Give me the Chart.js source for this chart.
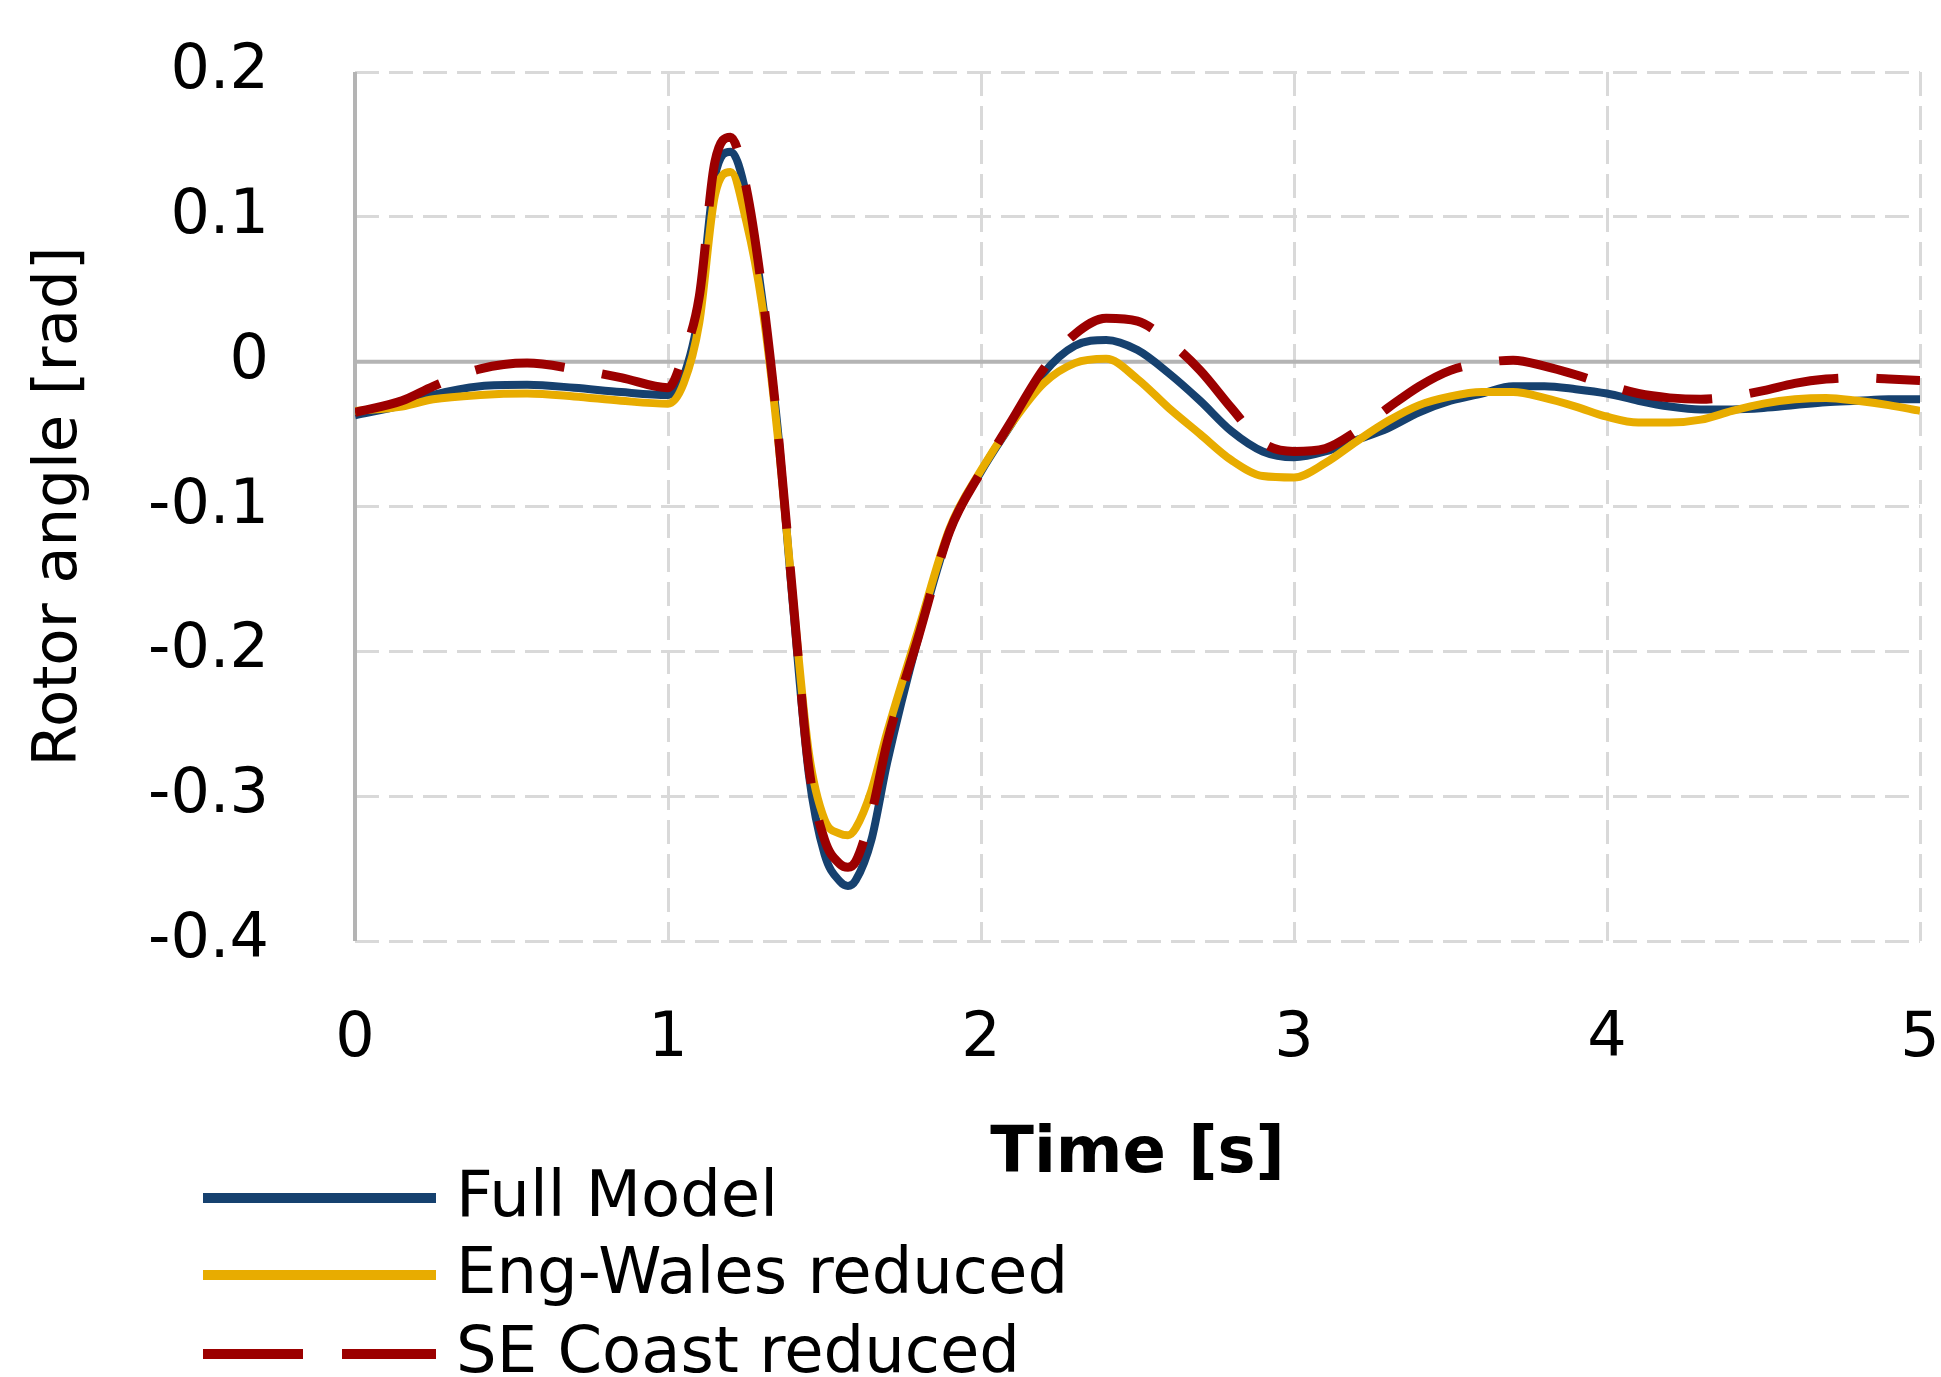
<!DOCTYPE html>
<html>
<head>
<meta charset="utf-8">
<script src="https://cdn.jsdelivr.net/npm/chart.js@4.4.1/dist/chart.umd.min.js"></script>
<style>
  html, body { margin: 0; padding: 0; background: #fff; }
  #wrap { width: 1941px; height: 1377px; }
</style>
</head>
<body>
<div id="wrap"><canvas id="rotorChart" width="1941" height="1377"></canvas></div>
<script>
// time axis [s]
const times = [0, 0.15, 0.25, 0.4, 0.55, 0.7, 0.85, 1.0, 1.05, 1.1, 1.15, 1.2, 1.25, 1.3, 1.35,
  1.4, 1.45, 1.5, 1.55, 1.575, 1.6, 1.65, 1.7, 1.8, 1.9, 2.0, 2.1, 2.2, 2.3, 2.4, 2.5, 2.6, 2.7, 2.8,
  2.9, 3.0, 3.1, 3.2, 3.3, 3.4, 3.5, 3.6, 3.7, 3.8, 3.9, 4.0, 4.1, 4.2, 4.3, 4.4, 4.5, 4.6,
  4.7, 4.8, 4.9, 5.0];

const fullModel = [-0.037, -0.030, -0.023, -0.017, -0.016, -0.018, -0.021, -0.023, -0.010, 0.035,
  0.128, 0.145, 0.115, 0.045, -0.045, -0.170, -0.285, -0.340, -0.359, -0.362, -0.358, -0.330, -0.277,
  -0.190, -0.117, -0.076, -0.042, -0.008, 0.011, 0.015, 0.008, -0.008, -0.027, -0.048, -0.062,
  -0.066, -0.062, -0.054, -0.046, -0.035, -0.027, -0.022, -0.017, -0.017, -0.019, -0.022,
  -0.027, -0.031, -0.033, -0.033, -0.032, -0.030, -0.028, -0.027, -0.026, -0.026];

const engWales = [-0.034, -0.031, -0.026, -0.023, -0.022, -0.024, -0.027, -0.029, -0.015, 0.027,
  0.115, 0.131, 0.097, 0.040, -0.050, -0.165, -0.270, -0.316, -0.326, -0.327, -0.322, -0.296, -0.256,
  -0.185, -0.115, -0.075, -0.042, -0.015, -0.001, 0.002, -0.012, -0.032, -0.050, -0.068, -0.079,
  -0.080, -0.070, -0.055, -0.041, -0.030, -0.024, -0.021, -0.021, -0.025, -0.031, -0.038,
  -0.042, -0.042, -0.040, -0.034, -0.029, -0.026, -0.025, -0.027, -0.030, -0.034];

const seCoast = [-0.035, -0.027, -0.017, -0.005, -0.001, -0.005, -0.011, -0.018, 0.005, 0.045,
  0.138, 0.155, 0.120, 0.050, -0.045, -0.165, -0.280, -0.330, -0.347, -0.349, -0.345, -0.312, -0.263,
  -0.190, -0.117, -0.076, -0.040, -0.005, 0.019, 0.030, 0.028, 0.014, -0.006, -0.032, -0.056,
  -0.062, -0.060, -0.048, -0.032, -0.017, -0.006, -0.001, 0.001, -0.003, -0.009, -0.016,
  -0.022, -0.025, -0.026, -0.024, -0.020, -0.015, -0.012, -0.011, -0.012, -0.013];

const seriesNames = ['Full Model', 'Eng-Wales reduced', 'SE Coast reduced'];
const xTicks = [0, 1, 2, 3, 4, 5];
const yTicks = [-0.4, -0.3, -0.2, -0.1, 0, 0.1, 0.2];

const FONT = 'DejaVu Sans';
const GRID = '#d9d9d9';
const AXIS = '#b4b4b4';

function toPoints(values) {
  return times.map((t, i) => ({ x: t, y: values[i] }));
}

// solid axis line at x=0 and zero line at y=0
const axisLines = {
  id: 'axisLines',
  beforeDatasetsDraw(chart) {
    const { ctx, chartArea, scales } = chart;
    const x0 = scales.x.getPixelForValue(0);
    const y0 = scales.y.getPixelForValue(0);
    ctx.save();
    ctx.strokeStyle = AXIS;
    ctx.lineWidth = 4;
    ctx.beginPath();
    ctx.moveTo(chartArea.left, y0);
    ctx.lineTo(chartArea.right, y0);
    ctx.moveTo(x0, chartArea.top);
    ctx.lineTo(x0, chartArea.bottom);
    ctx.stroke();
    ctx.restore();
  }
};

// vertical legend under the chart
const sideLegend = {
  id: 'sideLegend',
  afterDraw(chart) {
    const ctx = chart.ctx;
    const rows = [1198, 1275, 1354];
    ctx.save();
    ctx.font = '64px "' + FONT + '"';
    ctx.textBaseline = 'middle';
    ctx.fillStyle = '#000';
    chart.data.datasets.forEach((ds, i) => {
      const y = rows[i];
      ctx.strokeStyle = ds.borderColor;
      ctx.lineWidth = 10;
      ctx.setLineDash(ds.borderDash ? [100, 39] : []);
      ctx.beginPath();
      ctx.moveTo(203, y);
      ctx.lineTo(436, y);
      ctx.stroke();
      ctx.setLineDash([]);
      ctx.fillText(ds.label, 456, y + 1);
    });
    ctx.restore();
  }
};

const ctx = document.getElementById('rotorChart').getContext('2d');
new Chart(ctx, {
  type: 'line',
  data: {
    datasets: [
      { label: seriesNames[0], data: toPoints(fullModel), borderColor: '#16416f', borderWidth: 8, order: 3 },
      { label: seriesNames[1], data: toPoints(engWales), borderColor: '#e8ac00', borderWidth: 8, order: 2 },
      { label: seriesNames[2], data: toPoints(seCoast), borderColor: '#9c0000', borderWidth: 9, borderDash: [90, 38], order: 1 }
    ]
  },
  options: {
    responsive: false,
    animation: false,
    parsing: false,
    layout: { padding: { left: 0, top: 72, right: 21, bottom: 183 } },
    elements: {
      point: { radius: 0 },
      line: { cubicInterpolationMode: 'monotone', fill: false }
    },
    plugins: {
      legend: { display: false },
      tooltip: { enabled: false }
    },
    scales: {
      x: {
        type: 'linear',
        min: 0,
        max: 5,
        afterBuildTicks: s => { s.ticks = xTicks.map(v => ({ value: v })); },
        afterFit: s => { s.height = 253; s.paddingLeft = 0; s.paddingRight = 0; },
        grid: {
          drawTicks: false,
          lineWidth: 3,
          color: c => (c.tick && c.tick.value === 0) ? 'rgba(0,0,0,0)' : GRID
        },
        border: { display: false, dash: [24, 10] },
        ticks: {
          padding: 62,
          color: '#000',
          font: { family: FONT, size: 62 },
          maxRotation: 0,
          callback: v => String(v)
        },
        title: {
          display: true,
          text: 'Time [s]',
          color: '#000',
          padding: 0,
          font: { family: FONT, size: 64, weight: 'bold' }
        }
      },
      y: {
        type: 'linear',
        min: -0.4,
        max: 0.2,
        afterBuildTicks: s => { s.ticks = yTicks.map(v => ({ value: v })); },
        afterFit: s => { s.width = 355; s.paddingTop = 0; s.paddingBottom = 0; },
        grid: {
          drawTicks: false,
          lineWidth: 3,
          color: c => (c.tick && Math.abs(c.tick.value) < 1e-9) ? 'rgba(0,0,0,0)' : GRID
        },
        border: { display: false, dash: [24, 10] },
        ticks: {
          padding: 86,
          color: '#000',
          font: { family: FONT, size: 62 },
          callback: v => String(Number(v.toFixed(1)))
        },
        title: {
          display: true,
          text: 'Rotor angle [rad]',
          color: '#000',
          padding: { top: 24, bottom: 0 },
          font: { family: FONT, size: 61 }
        }
      }
    }
  },
  plugins: [axisLines, sideLegend]
});
</script>
</body>
</html>
